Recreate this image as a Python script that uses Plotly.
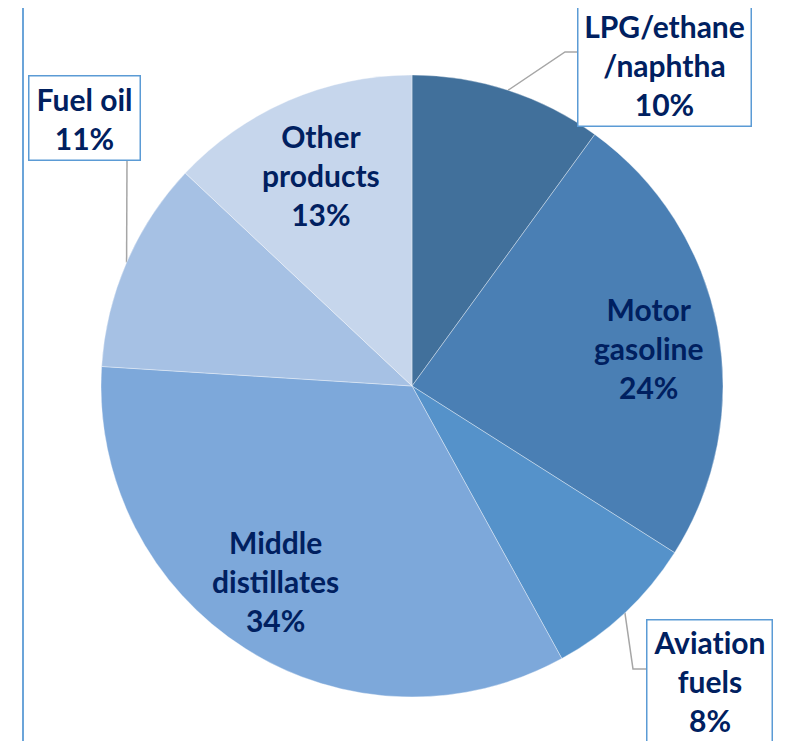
import math
import plotly.graph_objects as go

# ---- data ----
categories = ["LPG/ethane<br>/naphtha", "Motor<br>gasoline", "Aviat\u200cion<br>fuels",
              "Middle<br>distillates", "Fuel oil", "Other<br>products"]
shares = [10, 24, 8, 34, 11, 13]
colors = ["#41709B", "#4A7FB4", "#5592CA", "#7DA8DA", "#A6C1E4", "#C6D6EC"]

# ---- layout geometry (screen pixels; page body has an 8px margin) ----
OFF = 8
W, H = 785 - OFF, 741 - OFF
CX, CY, R = 412, 386, 311
TEXT_COLOR = "#002060"
BOX_COLOR = "#5B9BD5"
LEADER_COLOR = "#A6A6A6"
FONT = dict(family="Lato", size=30, color=TEXT_COLOR, weight=700)

def px(x):
    return (x - OFF) / W

def py(y):
    return 1 - (y - OFF) / H

fig = go.Figure(go.Pie(
    labels=[c.replace("<br>", " ").replace("\u200c", "") for c in categories],
    values=shares,
    sort=False,
    direction="clockwise",
    rotation=0,
    marker=dict(colors=colors, line=dict(color="rgba(255,255,255,0.6)", width=0.6)),
    textinfo="none",
    hoverinfo="label+percent",
    domain=dict(x=[px(CX - R), px(CX + R)], y=[py(CY + R), py(CY - R)]),
    showlegend=False,
))

# mid angles (clockwise from 12 o'clock) from data
total = sum(shares)
mids = []
cum = 0
for v in shares:
    mids.append((cum + v / 2) / total * 2 * math.pi)
    cum += v

def polar(a, r):
    return CX + r * math.sin(a), CY - r * math.cos(a)

annotations = []
shapes = []

# inside labels: index -> (radius fraction, angular nudge in degrees)
inside = {1: (0.772, 1.8), 3: (0.766, 2.6), 5: (0.74, 0.0)}
for i, (rf, da) in inside.items():
    x, y = polar(mids[i] + math.radians(da), R * rf)
    annotations.append(dict(
        x=px(x), y=py(y), xref="paper", yref="paper",
        text=f"{categories[i]}<br>{shares[i]}%", showarrow=False,
        font=FONT, align="center", xanchor="center", yanchor="middle"))

# boxed outside labels: index -> (left, top, width, height, leader elbow points)
boxes = {
    0: (577, 3, 175, 124, [(565, 52), (577, 52)]),
    2: (646, 619, 127, 124, [(633, 669), (646, 669)]),
    4: (28, 75, 113, 86, [(127, 161)]),
}
for i, (l, t, w, h, pts) in boxes.items():
    annotations.append(dict(
        x=px(l + w / 2), y=py(t + h / 2), xref="paper", yref="paper",
        text=f"{categories[i]}<br>{shares[i]}%", showarrow=False,
        font=FONT, align="center", xanchor="center", yanchor="middle",
        width=w - 3, height=h - 3, bgcolor="white",
        bordercolor=BOX_COLOR, borderwidth=1.5, borderpad=0))
    ex, ey = polar(mids[i], R)
    path_pts = [(ex, ey)] + pts
    path = "M " + " L ".join(f"{px(a)},{py(b)}" for a, b in path_pts)
    shapes.append(dict(type="path", xref="paper", yref="paper", path=path,
                       line=dict(color=LEADER_COLOR, width=1.5), layer="below"))

# left frame border of the chart area
shapes.append(dict(type="line", xref="paper", yref="paper",
                   x0=px(23), x1=px(23), y0=py(741), y1=py(0),
                   line=dict(color=BOX_COLOR, width=1.8)))

fig.update_layout(
    width=W, height=H,
    margin=dict(l=0, r=0, t=0, b=0),
    paper_bgcolor="white", plot_bgcolor="white",
    annotations=annotations, shapes=shapes,
)

fig.write_html("out.html")
